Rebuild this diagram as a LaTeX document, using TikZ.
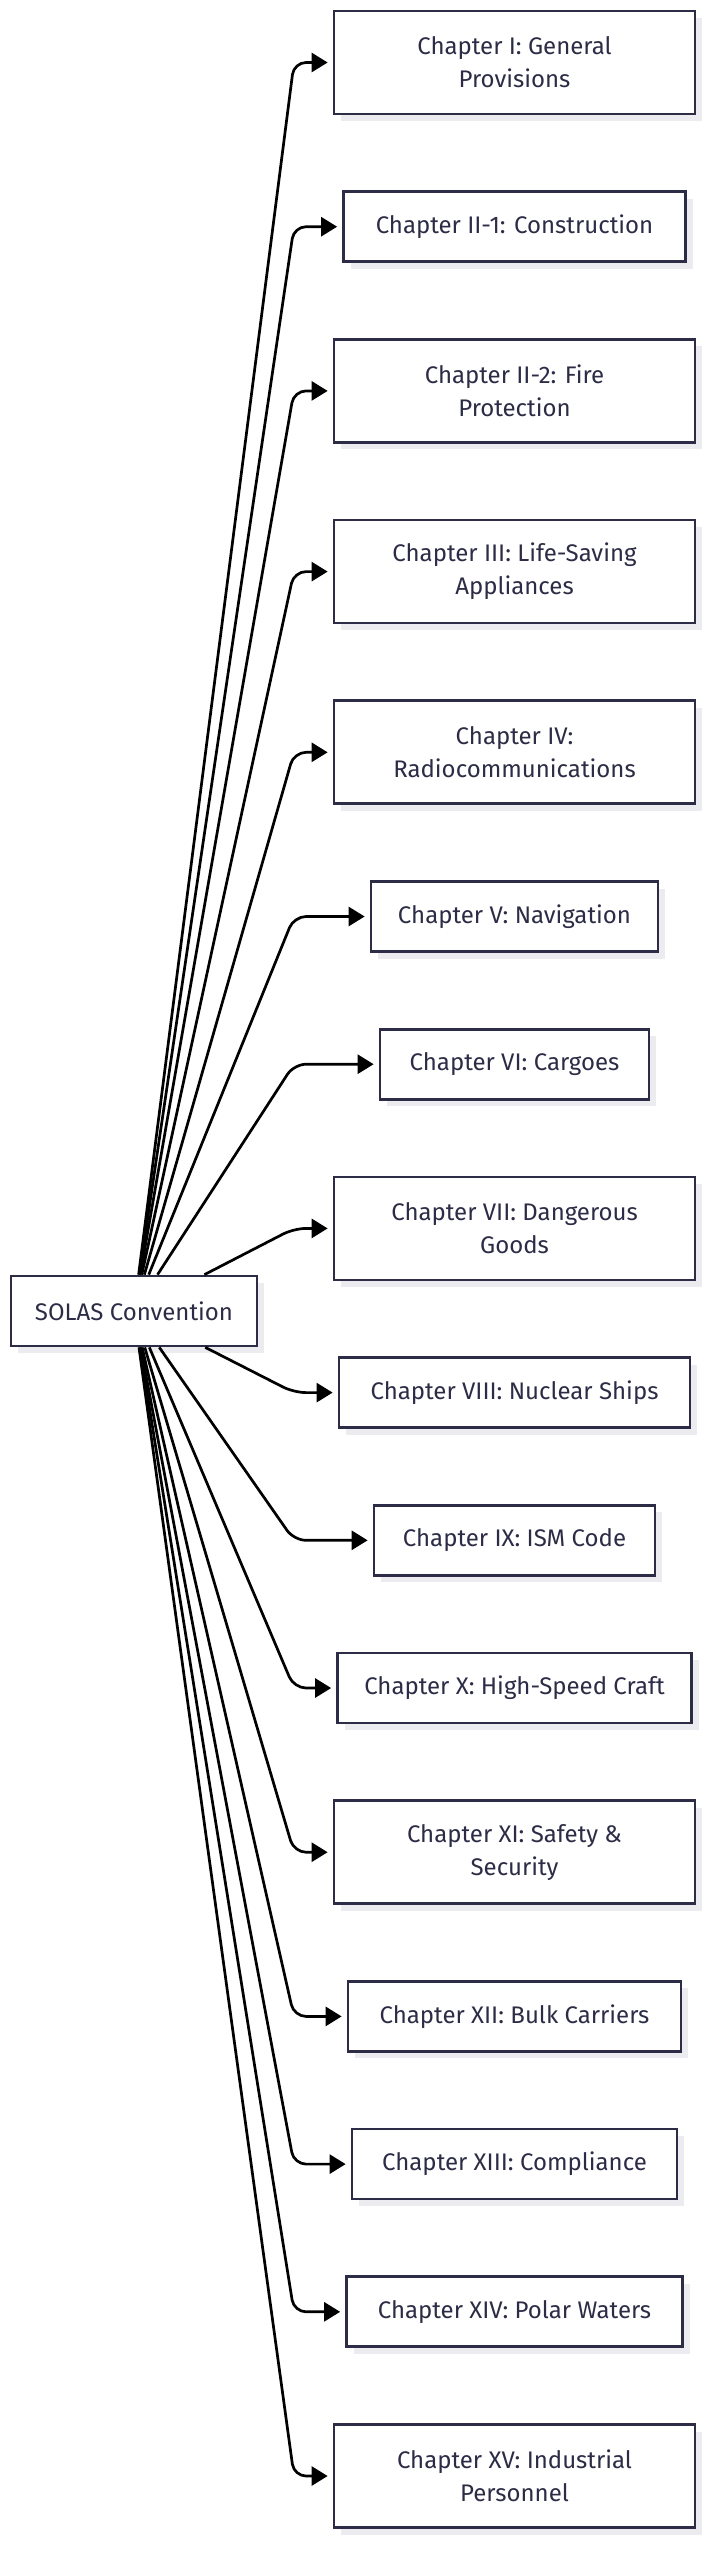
\documentclass[tikz,border=0pt]{standalone}
\usepackage{fontspec}
\setmainfont{Fira Sans}
\usetikzlibrary{arrows.meta,shadows}
\definecolor{ink}{HTML}{2C2C46}
\definecolor{shade}{HTML}{EBEBF0}
\begin{document}
\begin{tikzpicture}[x=1pt,y=-1pt,
 box/.style={draw=ink, line width=2.7pt, fill=white, text=ink,
   font=\fontsize{24}{33}\selectfont, inner sep=0pt, align=center,
   drop shadow={shadow xshift=7pt, shadow yshift=-7pt, fill=shade, opacity=1}},
 one/.style={box, minimum height=70pt},
 two/.style={box, minimum height=103pt, minimum width=361pt},
 link/.style={draw=black, line width=2.7pt, rounded corners=12pt,
   -{Triangle[length=16pt,width=19pt]}, shorten >=5pt}]
\useasboundingbox (0,0) rectangle (713,2560);

\node[one, minimum width=246pt] (root) at (134,1311) {SOLAS Convention};

\node[two] (c1) at (514.5,62.5) {Chapter I: General\\Provisions};
\node[one, minimum width=342pt] (c2) at (514.5,226.7) {Chapter II-1: Construction};
\node[two] (c3) at (514.5,390.9) {Chapter II-2: Fire\\Protection};
\node[two] (c4) at (514.5,571.6) {Chapter III: Life-Saving\\Appliances};
\node[two] (c5) at (514.5,752.3) {Chapter IV:\\Radiocommunications};
\node[one, minimum width=287pt] (c6) at (514.5,916.5) {Chapter V: Navigation};
\node[one, minimum width=269pt] (c7) at (514.5,1064.2) {Chapter VI: Cargoes};
\node[two] (c8) at (514.5,1228.4) {Chapter VII: Dangerous\\Goods};
\node[one, minimum width=351pt] (c9) at (514.5,1392.6) {Chapter VIII: Nuclear Ships};
\node[one, minimum width=281pt] (c10) at (514.5,1540.3) {Chapter IX: ISM Code};
\node[one, minimum width=354pt] (c11) at (514.5,1688) {Chapter X: High-Speed Craft};
\node[two] (c12) at (514.5,1852.2) {Chapter XI: Safety \&\\Security};
\node[one, minimum width=333pt] (c13) at (514.5,2016.4) {Chapter XII: Bulk Carriers};
\node[one, minimum width=325pt] (c14) at (514.5,2164.1) {Chapter XIII: Compliance};
\node[one, minimum width=336pt] (c15) at (514.5,2311.8) {Chapter XIV: Polar Waters};
\node[two] (c16) at (514.5,2476) {Chapter XV: Industrial\\Personnel};

\foreach \n/\y in {1/62.5,2/226.7,3/390.9,4/571.6,5/752.3,6/916.5,7/1064.2,8/1228.4,
                   9/1392.6,10/1540.3,11/1688,12/1852.2,13/2016.4,14/2164.1,15/2311.8,16/2476}{
  \coordinate (k\n) at (294,\y);
  \draw[link] (root) -- (k\n) -- (c\n.west);
}
\end{tikzpicture}
\end{document}
